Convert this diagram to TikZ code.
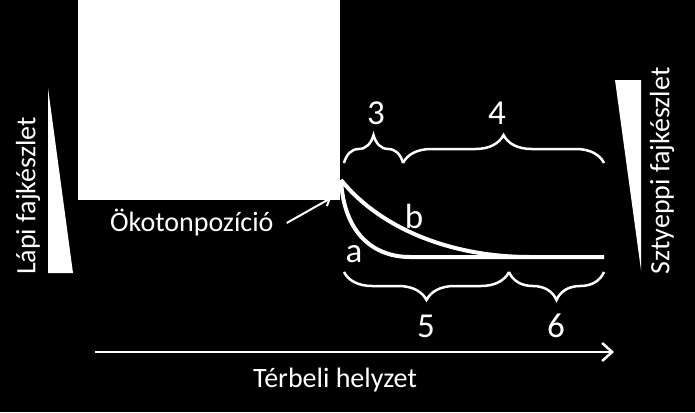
\documentclass[tikz,border=0pt]{standalone}
\usepackage{fontspec}
\setmainfont{Carlito}
\usetikzlibrary{decorations.pathreplacing,arrows.meta}
\tikzset{
  lbl/.style={text=white, inner sep=0pt, font=\fontsize{28}{32}\selectfont},
  big/.style={text=white, inner sep=0pt, font=\fontsize{35}{40}\selectfont},
  brc/.style={draw=white, line width=2.5pt, decorate, decoration={brace, amplitude=28pt, aspect=0.5}},
  crv/.style={draw=white, line width=4pt},
  tri/.style={fill=white, draw=none},
}
\begin{document}
\begin{tikzpicture}[x=1pt,y=-1pt]
\fill[black] (0,0) rectangle (695,412);
\useasboundingbox (0,0) rectangle (695,412);
% white box
\fill[white] (78,0) rectangle (340,200);
% triangles
\fill[tri] (48,88) -- (73,273) -- (48,273) -- cycle;
\fill[tri] (615,80) -- (641,80) -- (641,270) -- cycle;
% side labels
\node[lbl, rotate=90] (lapi) at (28,196) {Lápi fajkészlet};
\node[lbl, rotate=90] (szt) at (662,171) {Sztyeppi fajkészlet};
% curves
\coordinate (s) at (341,180);
\coordinate (m) at (410,257);
\coordinate (e) at (604,257);
\draw[crv] (s) .. controls (344,235) and (375,257) .. (m) -- (e);
\draw[crv] (s) .. controls (380,228) and (450,257) .. (530,257);
\node[big] (a) at (354,254) {a};
\node[big] (b) at (414,216) {b};
% braces
\coordinate (t0) at (344,163);
\coordinate (t1) at (403,163);
\coordinate (t2) at (604,163);
\coordinate (b0) at (344,272);
\coordinate (b1) at (509,272);
\coordinate (b2) at (604,272);
\draw[brc] (t0) -- (t1);
\draw[brc] (t1) -- (t2);
\draw[brc] (b1) -- (b0);
\draw[brc] (b2) -- (b1);
\node[big] (n3) at (376,113) {3};
\node[big] (n4) at (497,113) {4};
\node[big] (n5) at (426,326) {5};
\node[big] (n6) at (556,326) {6};
% ecotone label
\node[lbl, anchor=west] (oko) at (110,223) {Ökotonpozíció};
\coordinate (okoend) at (331,198);
\draw[white, line width=2pt, -{Straight Barb[length=6pt,width=10pt]}] (oko.east) ++(13,0) -- (okoend);
% axis
\coordinate (ax0) at (95,352);
\coordinate (ax1) at (614,352);
\draw[white, line width=2.5pt, -{Straight Barb[length=10pt,width=18pt]}] (ax0) -- (ax1);
\node[lbl] (ter) at (335,380) {Térbeli helyzet};
\end{tikzpicture}
\end{document}
